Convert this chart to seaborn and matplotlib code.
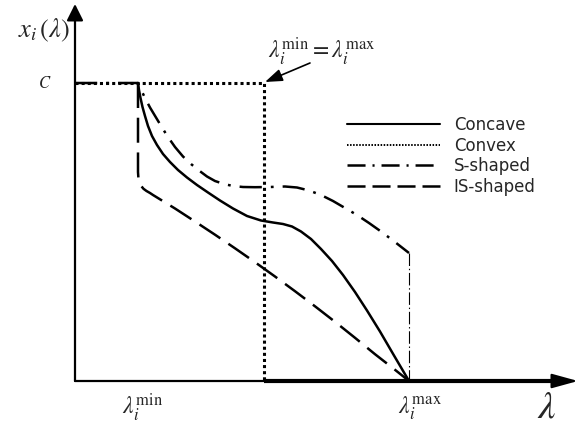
import matplotlib
matplotlib.use("Agg")
import matplotlib.pyplot as plt
import seaborn as sns
import pandas as pd
from matplotlib.lines import Line2D

# ---- data (chart units: lambda offset from origin, x_i(lambda) with C = 298) ----
C_LEVEL = 298
LAM_MIN = 63
LAM_EQ = 189
LAM_MAX = 334
LAM_END = 480

concave_lam = [63, 64, 65.5, 67.5, 70, 73, 77, 82, 88, 95, 103, 112, 122, 133, 145, 158, 172,
               186, 198, 208, 217, 226, 236, 246, 257, 268, 280, 292, 305, 319, 334]
concave_x = [298, 291, 283, 274, 265, 255, 245, 236, 227, 219, 211, 203.5, 196, 188.5, 180.5,
             172.5, 165, 160.5, 158.5, 157, 154.5, 149.5, 142, 132, 120, 106, 89, 70.5, 49.5,
             25.5, 0]

convex_lam = [0, LAM_EQ, LAM_EQ]
convex_x = [C_LEVEL, C_LEVEL, 0]
convex_tail_lam = [LAM_EQ, LAM_END]
convex_tail_x = [0, 0]

s_lam = [0, 63, 66, 70, 75, 81, 87, 93, 100, 108, 116, 124, 132, 140, 149, 158, 168, 180, 195,
         210, 222, 234, 246, 258, 270, 282, 294, 306, 318, 334]
s_x = [298, 298, 291.5, 283, 273.5, 263.5, 253.5, 244, 234, 224.5, 217, 210.5, 204.5, 200, 197,
       195, 194, 193.8, 194, 194.5, 193.5, 190.5, 186, 180, 173, 166, 158, 149.5, 140.5, 128]
s_drop_lam = [334, 334]
s_drop_x = [128, 0]

is_lam = [63, 63, 63.4, 64.5, 66.2, 68.5, 71.5, 75, 78, 100, 120, 140, 160, 180, 200, 220, 240,
          260, 280, 300, 320, 334]
is_x = [298, 209, 203, 198.5, 195, 192.2, 190, 188, 186, 172.5, 159.5, 146.3, 132.7, 118.8,
        104.5, 89.8, 74.7, 59.2, 43.2, 26.8, 11.2, 0]

legend_labels = ["Concave", "Convex", "S-shaped", "IS-shaped"]

# ---- figure ----
sns.set_theme(style="white")
plt.rcParams["font.family"] = ["DejaVu Sans"]
plt.rcParams["mathtext.fontset"] = "stix"
plt.rcParams["lines.scale_dashes"] = False

fig = plt.figure(figsize=(5.87, 4.30), dpi=100)
ax = fig.add_axes([0, 0, 1, 1])
ax.set_xlim(-75, 512)
ax.set_ylim(-49, 381)
ax.axis("off")

def line(lam, val, **kw):
    df = pd.DataFrame({"lam": lam, "val": val})
    sns.lineplot(data=df, x="lam", y="val", sort=False, estimator=None, ax=ax,
                 color="black", legend=False, **kw)

line(convex_lam, convex_x, lw=2.2, linestyle=(0, (2.2, 2.2)))
line(convex_tail_lam, convex_tail_x, lw=3.0, linestyle="-", solid_capstyle="butt")
line(concave_lam, concave_x, lw=1.8, linestyle="-")
line(s_lam, s_x, lw=1.8, linestyle=(0, (16, 6.5, 2, 6.5)))
line(s_drop_lam, s_drop_x, lw=0.8, linestyle=(0, (9, 2, 1, 2)))
line(is_lam, is_x, lw=1.8, linestyle=(0, (18, 7)))

# axes arrows
ax.annotate("", xy=(503, 0), xytext=(0, 0),
            arrowprops=dict(arrowstyle="-|>,head_length=0.8,head_width=0.22", lw=1.6,
                            color="black", mutation_scale=20, shrinkA=0, shrinkB=0))
ax.annotate("", xy=(0, 377), xytext=(0, 0),
            arrowprops=dict(arrowstyle="-|>,head_length=0.5,head_width=0.25", lw=1.6,
                            color="black", mutation_scale=20, shrinkA=0, shrinkB=0))

# annotation arrow
ax.annotate("", xy=(LAM_EQ + 1, C_LEVEL + 1), xytext=(235, 318),
            arrowprops=dict(arrowstyle="-|>,head_length=0.7,head_width=0.25", lw=1.2,
                            color="black", mutation_scale=15, shrinkA=0, shrinkB=0))
ax.text(247, 329, r"$\lambda_i^{\mathrm{min}} = \lambda_i^{\mathrm{max}}$", fontsize=17,
        ha="center", va="center")

# labels
ax.text(-31, 351, r"$x_i\,(\lambda)$", fontsize=19, ha="center", va="center")
ax.text(-30, 298, r"$C$", fontsize=12, ha="center", va="center")
ax.text(68, -27, r"$\lambda_i^{\mathrm{min}}$", fontsize=17, ha="center", va="center")
ax.text(345, -27, r"$\lambda_i^{\mathrm{max}}$", fontsize=17, ha="center", va="center")
ax.text(472, -26, r"$\lambda$", fontsize=28, ha="center", va="center")

# legend
handles = [
    Line2D([], [], color="black", lw=1.5, linestyle="-"),
    Line2D([], [], color="black", lw=1.4, linestyle=(0, (1.1, 1.1))),
    Line2D([], [], color="black", lw=1.8, linestyle=(0, (13, 5, 1.5, 5))),
    Line2D([], [], color="black", lw=1.8, linestyle=(0, (13, 5))),
]
ax.legend(handles, legend_labels, loc="upper left",
          bbox_to_anchor=(347 / 587, 1 - 116 / 430), bbox_transform=fig.transFigure,
          frameon=False, fontsize=12, handlelength=5.6, handletextpad=0.8,
          labelspacing=0.15, borderpad=0, borderaxespad=0)

fig.savefig("out.png", dpi=100)
